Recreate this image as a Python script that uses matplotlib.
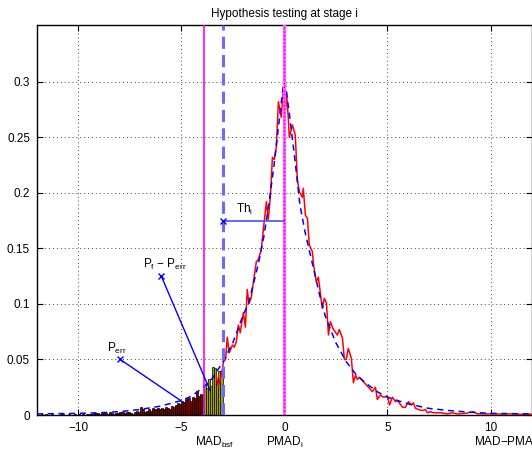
import numpy as np
import matplotlib
matplotlib.use('Agg')
import matplotlib.pyplot as plt
import matplotlib.transforms as mtransforms

plt.rcParams['font.family'] = ['Liberation Sans', 'DejaVu Sans']
plt.rcParams['mathtext.fontset'] = 'custom'
plt.rcParams['mathtext.rm'] = 'Liberation Sans'
plt.rcParams['mathtext.it'] = 'Liberation Sans:italic'

# histogram bars below the threshold, bin width 0.1 starting at -12
bar_start = -12.0
bar_width = 0.1
bar_heights = [
    0, 0, 0.0005, 0, 0.0005, 0, 0, 0.0005, 0, 0,
    0, 0.001, 0.0005, 0, 0, 0.0005, 0, 0, 0.0005, 0,
    0.0005, 0, 0.001, 0, 0.0005, 0.001, 0.0005, 0.002, 0.0015, 0.002,
    0.001, 0.002, 0.0015, 0.002, 0.001, 0.0025, 0.002, 0.001, 0.0015, 0.002,
    0.0025, 0.003, 0.002, 0.003, 0.0025, 0.002, 0.001, 0.0025, 0.004, 0.003,
    0.007, 0.005, 0.003, 0.004, 0.005, 0.004, 0.006, 0.005, 0.006, 0.005,
    0.006, 0.005, 0.007, 0.006, 0.005, 0.008, 0.007, 0.009, 0.011, 0.010,
    0.013, 0.012, 0.014, 0.015, 0.013, 0.016, 0.015, 0.022, 0.017, 0.019,
    0.018, 0.027, 0.024, 0.032, 0.026, 0.043, 0.042, 0.031, 0.040, 0.040,
]

# empirical density (red)
emp_x = [-3.3, -3.2, -3.1, -3.0, -2.95, -2.85, -2.77, -2.67, -2.52, -2.43,
         -2.33, -2.23, -2.14, -1.99, -1.89, -1.80, -1.72, -1.6, -1.5, -1.36,
         -1.26, -1.12, -1.02, -0.87, -0.78, -0.68, -0.58, -0.49, -0.39, -0.29,
         -0.15, -0.05, 0.0, 0.1, 0.19, 0.24, 0.39, 0.53, 0.63, 0.73,
         0.87, 0.92, 1.02, 1.12, 1.21, 1.36, 1.41, 1.55, 1.65, 1.84,
         1.94, 2.04, 2.14, 2.23, 2.38, 2.57, 2.67, 2.82, 2.91, 3.0,
         3.1, 3.25, 3.35, 3.45, 3.54, 3.64, 3.83, 4.08, 4.27, 4.42,
         4.51, 4.66, 4.81, 5.0, 5.1, 5.24, 5.39, 5.49, 5.73, 5.87,
         6.02, 6.17, 6.26, 6.36, 6.5, 6.7, 6.84, 6.94, 7.09, 7.23,
         7.57, 7.91, 8.16, 8.4, 8.8, 9.17, 9.37, 10.0, 10.5, 11.0,
         11.6, 12.0]
emp_y = [0.035, 0.026, 0.033, 0.042, 0.048, 0.05, 0.070, 0.056, 0.063, 0.061,
         0.066, 0.081, 0.074, 0.092, 0.079, 0.113, 0.100, 0.106, 0.12, 0.138,
         0.14, 0.149, 0.167, 0.192, 0.176, 0.196, 0.232, 0.23, 0.241, 0.282,
         0.268, 0.293, 0.257, 0.291, 0.268, 0.25, 0.261, 0.252, 0.212, 0.201,
         0.196, 0.204, 0.18, 0.177, 0.153, 0.147, 0.136, 0.12, 0.124, 0.096,
         0.105, 0.101, 0.072, 0.084, 0.077, 0.072, 0.077, 0.069, 0.05, 0.05,
         0.06, 0.051, 0.029, 0.036, 0.032, 0.034, 0.03, 0.025, 0.021, 0.025,
         0.014, 0.018, 0.016, 0.017, 0.009, 0.016, 0.012, 0.013, 0.007, 0.007,
         0.012, 0.009, 0.011, 0.006, 0.005, 0.004, 0.005, 0.002, 0.003, 0.002,
         0.002, 0.001, 0.002, 0.001, 0.0015, 0.003, 0.001, 0.001, 0.0008, 0.001,
         0.0005, 0.0008]

# fitted density (blue dashed)
fit_x = [-12, -10, -9, -8, -7, -6, -5, -4.5, -4, -3.5, -3, -2.5, -2, -1.75,
         -1.5, -1.25, -1.0, -0.75, -0.5, -0.25, 0, 0.25, 0.5, 0.75, 1.0, 1.25,
         1.5, 1.75, 2.0, 2.5, 3, 3.5, 4, 4.5, 5, 6, 7, 8, 9, 10, 12]
fit_y = [0.001, 0.0015, 0.002, 0.003, 0.005, 0.008, 0.013, 0.017, 0.024, 0.033,
         0.047, 0.065, 0.09, 0.1, 0.118, 0.137, 0.16, 0.19, 0.225, 0.265, 0.305,
         0.27, 0.232, 0.19, 0.165, 0.145, 0.125, 0.105, 0.088, 0.065, 0.048,
         0.036, 0.028, 0.021, 0.016, 0.01, 0.006, 0.004, 0.0025, 0.0015, 0.001]

mad_bsf = -3.9
mad_line = -3.0
pmad = 0.0
th_level = 0.175

p_err_mark = (-7.96, 0.05)
p_err_end = (-4.95, 0.012)
pf_mark = (-5.97, 0.125)
pf_end = (-3.6, 0.022)

fig = plt.figure(figsize=(5.32, 4.49), dpi=100)
ax = fig.add_axes([0.0695, 0.0757, 0.93, 0.8685])

# bars, dark red up to MAD_bsf, olive after
edges = bar_start + bar_width * np.arange(len(bar_heights))
colors = ['#7a0000' if e < mad_bsf - 1e-9 else '#a5a500' for e in edges]
ax.bar(edges, bar_heights, width=bar_width, align='edge', color=colors,
       edgecolor='black', linewidth=0.5, zorder=2)

ax.plot(emp_x, emp_y, color='red', linewidth=1.1, zorder=3)
ax.plot(fit_x, fit_y, color='blue', linestyle=(0, (4, 3)), linewidth=1.1, zorder=4)

ax.axvline(mad_bsf, color='magenta', linewidth=1.2, zorder=5)
ax.axvline(mad_line, color='#6b6bff', linestyle=(0, (4, 2)), linewidth=2.2, zorder=5)
ax.axvline(pmad, color='#ff66ff', linewidth=2.4, zorder=5)
ax.axvline(pmad, color='#cc00cc', linestyle=':', linewidth=1.0, zorder=6)

# threshold
ax.plot([mad_line, pmad], [th_level, th_level], color='#4d4dff', linewidth=1.2,
        zorder=6)
ax.plot([mad_line], [th_level], marker='x', color='blue', markersize=4, zorder=7)
ax.text(-2.35, th_level + 0.003, r'Th$_\mathrm{i}$', fontsize=8.5, va='bottom')

# error annotations
ax.plot([p_err_mark[0], p_err_end[0]], [p_err_mark[1], p_err_end[1]],
        color='blue', linewidth=1.0, zorder=7)
ax.plot([p_err_mark[0]], [p_err_mark[1]], marker='x', color='blue', markersize=4)
ax.text(-8.6, 0.053, r'P$_\mathrm{err}$', fontsize=8.5, va='bottom')

ax.plot([pf_mark[0], pf_end[0]], [pf_mark[1], pf_end[1]],
        color='blue', linewidth=1.0, zorder=7)
ax.plot([pf_mark[0]], [pf_mark[1]], marker='x', color='blue', markersize=4)
ax.text(-6.85, 0.129, r'P$_\mathrm{f}$ $-$ P$_\mathrm{err}$', fontsize=8.5, va='bottom')

ax.set_xlim(-12, 12)
ax.set_ylim(0, 0.351)
ax.set_xticks([-10, -5, 0, 5, 10])
ax.set_xticklabels(['\u221210', '\u22125', '0', '5', '10'])
ax.set_yticks([0, 0.05, 0.1, 0.15, 0.2, 0.25, 0.3])
ax.set_yticklabels(['0', '0.05', '0.1', '0.15', '0.2', '0.25', '0.3'])
ax.tick_params(direction='in', top=True, right=True, length=4, labelsize=8.5,
               pad=5)
ax.grid(True, linestyle=(0, (1, 3)), color='#444444', linewidth=0.7)
ax.set_axisbelow(True)
for s in ax.spines.values():
    s.set_linewidth(1.0)

ax.set_title('Hypothesis testing at stage i', fontsize=8.5, pad=6)

# labels under the axis
trans = mtransforms.blended_transform_factory(ax.transData, ax.transAxes)
ax.text(-3.4, -0.05, r'MAD$_\mathrm{bsf}$', transform=trans, fontsize=8.5,
        ha='center', va='top')
ax.text(0.0, -0.05, r'PMAD$_\mathrm{i}$', transform=trans, fontsize=8.5,
        ha='center', va='top')
ax.text(9.2, -0.05, r'MAD$-$PMAD$_\mathrm{i}$', transform=trans, fontsize=8.5,
        ha='left', va='top')

fig.savefig('out.png', dpi=100)
